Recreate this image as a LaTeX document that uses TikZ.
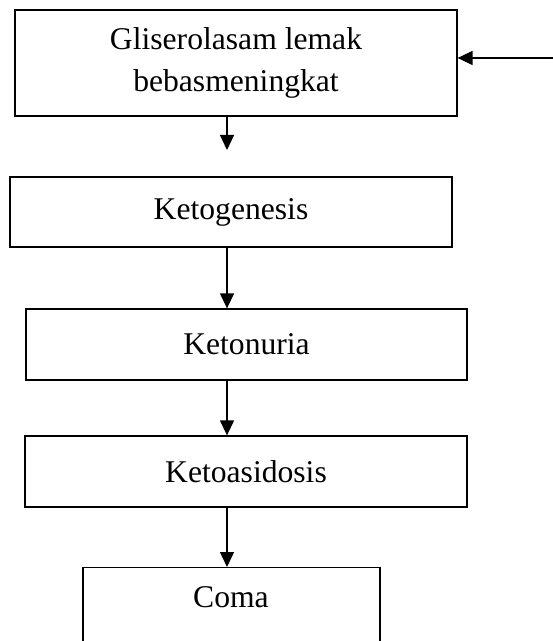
\documentclass[tikz,border=0pt]{standalone}
\usepackage{fontspec}
\setmainfont{Liberation Serif}
\usepackage{tikz}
\usetikzlibrary{positioning, arrows.meta}
\tikzset{
  kotak/.style={draw, line width=0.75pt, align=center, inner sep=0pt},
  panah/.style={-{Triangle[length=0.3cm, width=0.28cm]}, line width=0.75pt}
}

\begin{document}
\begin{tikzpicture}[x=0.02cm, y=-0.02cm, every node/.style={font=\fontsize{18}{24}\selectfont}]
  \useasboundingbox (0,0) rectangle (553,641);
  \clip (0,0) rectangle (553,641);
  \node[kotak, minimum width=8.84cm, minimum height=2.12cm] (glis) at (236,63) {Gliserolasam lemak\\bebasmeningkat};
  \node[kotak, minimum width=8.84cm, minimum height=1.40cm] (ketog) at (231,212) {Ketogenesis};
  \node[kotak, minimum width=8.82cm, minimum height=1.42cm] (keton) at (246.5,344.5) {Ketonuria};
  \node[kotak, minimum width=8.84cm, minimum height=1.42cm] (ketoa) at (246,471.5) {Ketoasidosis};
  \node[kotak, minimum width=5.94cm, minimum height=2.4cm, anchor=north] (coma) at (231.5,567) {};
  \node (comateks) at (231,597) {Coma};
  \coordinate (kolom) at (227,0);
  \coordinate (masuk) at (553,58);
  \coordinate (ujung) at (227,150);
  \draw[panah] (masuk) -- (glis.east |- masuk);
  \draw[panah] (glis.south -| kolom) -- (ujung);
  \draw[panah] (ketog.south -| kolom) -- (keton.north -| kolom);
  \draw[panah] (keton.south -| kolom) -- (ketoa.north -| kolom);
  \draw[panah] (ketoa.south -| kolom) -- (coma.north -| kolom);
\end{tikzpicture}
\end{document}
